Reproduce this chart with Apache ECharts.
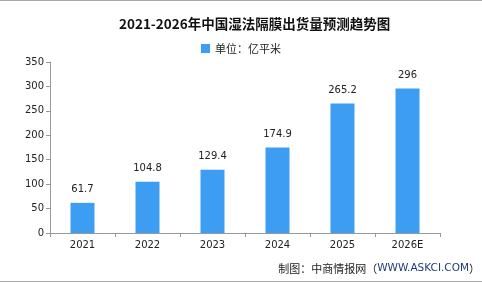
<!DOCTYPE html>
<html><head><meta charset="utf-8">
<script src="https://cdn.jsdelivr.net/npm/echarts@6/dist/echarts.min.js"></script>
<style>html,body{margin:0;padding:0;background:#fff}#c{width:482px;height:284px}</style>
</head><body><div id="c"></div>
<script>
const categories = ['2021','2022','2023','2024','2025','2026E'];
const values = [61.7,104.8,129.4,174.9,265.2,296];
const yTicks = [0,50,100,150,200,250,300,350];
const chart = echarts.init(document.getElementById('c'));
const font = '"Noto Sans CJK SC", sans-serif';
chart.setOption({
  animation:false,
  backgroundColor:'#fff',
  title:{text:'2021-2026年中国湿法隔膜出货量预测趋势图',left:114,top:12,
    textStyle:{fontFamily:font,fontSize:13.5,fontWeight:'bold',color:'#111'}},
  legend:{top:38,left:'center',icon:'rect',itemWidth:9,itemHeight:9,itemGap:4,
    textStyle:{fontFamily:font,fontSize:11,color:'#222'},data:['单位：亿平米']},
  grid:{left:50,right:42,top:62,bottom:51},
  xAxis:{type:'category',data:categories,
    axisLine:{lineStyle:{color:'#999'}},
    axisTick:{show:true,lineStyle:{color:'#999'},length:4},
    axisLabel:{fontSize:10,color:'#222',fontFamily:'"DejaVu Sans", sans-serif',margin:7}},
  yAxis:{type:'value',min:yTicks[0],max:yTicks[yTicks.length-1],interval:50,
    splitLine:{show:false},
    axisLine:{show:true,lineStyle:{color:'#999'}},
    axisTick:{show:true,lineStyle:{color:'#999'},length:4},
    axisLabel:{fontSize:10,color:'#222',fontFamily:'"DejaVu Sans", sans-serif',margin:6}},
  series:[{name:'单位：亿平米',type:'bar',data:values,barWidth:24,
    itemStyle:{color:'#3d9df3'},
    label:{show:true,position:'top',distance:8,fontSize:10,color:'#222',fontFamily:'"DejaVu Sans", sans-serif'}}],
  graphic:[
    {type:'line',shape:{x1:0,y1:0.5,x2:482,y2:0.5},style:{stroke:'#aaa',lineWidth:1}},
    {type:'line',shape:{x1:0,y1:281.5,x2:482,y2:281.5},style:{stroke:'#aaa',lineWidth:1}},
    {type:'text',right:2,top:263,style:{text:'{a|制图：中商情报网（}{b|WWW.ASKCI.COM}{a|）}',
      rich:{a:{fontFamily:font,fontSize:11,fill:'#222'},b:{fontFamily:'"DejaVu Sans", sans-serif',fontSize:10.5,fill:'#1f3a7a'}}}}
  ]
});
</script></body></html>
